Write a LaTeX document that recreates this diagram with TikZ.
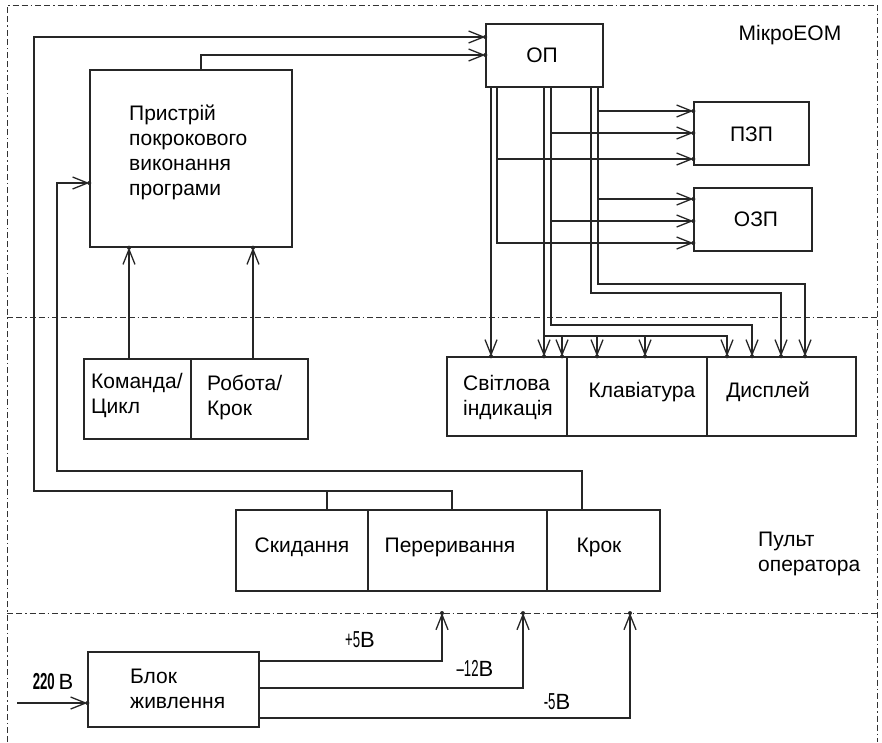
\documentclass[tikz,border=0pt]{standalone}
\usepackage{fontspec}
\usepackage{graphicx}
\setmainfont{Liberation Sans}
\usetikzlibrary{arrows.meta,decorations.markings}
\tikzset{
  box/.style={draw=black!85, line width=1.3pt, inner sep=0pt},
  txt/.style={inner sep=0pt, align=left, font=\fontsize{21}{25}\selectfont},
  lbl/.style={inner sep=0pt, font=\fontsize{22}{25}\selectfont},
  wire/.style={draw=black!85, line width=1.3pt},
  arr/.style={wire, -{Straight Barb[length=15pt,width=12pt]},
    postaction={decorate},
    decoration={markings, mark=at position 0.9999 with {\fill[black!85] (0,0) circle (2pt);}}},
  frame/.style={draw=black!80, line width=1pt,
    dash pattern=on 6pt off 3pt on 6pt off 3pt on 1.5pt off 3pt}
}
\begin{document}
\begin{tikzpicture}[x=1pt,y=-1pt]
\useasboundingbox (0,0) rectangle (882,742);
% frame
\draw[frame] (7,742) -- (7,5) -- (877,5) -- (877,742);
\draw[frame] (7,317) -- (877,317);
\draw[frame] (7,613) -- (877,613);
% boxes
\node[box, minimum width=202pt, minimum height=177pt] (prog) at (191,158.5) {};
\node[box, minimum width=117pt, minimum height=63pt] (op) at (544.5,55.5) {};
\node[box, minimum width=115pt, minimum height=63pt] (pzp) at (751.5,133.5) {};
\node[box, minimum width=118pt, minimum height=63pt] (ozp) at (753,219.5) {};
\node[box, minimum width=107pt, minimum height=80pt] (kc) at (137.5,399) {};
\node[box, minimum width=117pt, minimum height=80pt] (rk) at (249.5,399) {};
\node[box, minimum width=120pt, minimum height=79pt] (sv) at (507,396.5) {};
\node[box, minimum width=140pt, minimum height=79pt] (kl) at (637,396.5) {};
\node[box, minimum width=149pt, minimum height=79pt] (ds) at (781.5,396.5) {};
\node[box, minimum width=132pt, minimum height=81pt] (sk) at (302,550.5) {};
\node[box, minimum width=179pt, minimum height=81pt] (pr) at (457.5,550.5) {};
\node[box, minimum width=113pt, minimum height=81pt] (kr) at (603.5,550.5) {};
\node[box, minimum width=171pt, minimum height=75pt] (bz) at (173.5,689.5) {};
% texts
\node[txt, anchor=west] (tprog) at (129,152.5) {Пристрій\\покрокового\\виконання\\програми};
\node[txt] (top) at (542,55) {ОП};
\node[txt] (tpzp) at (751.5,134) {ПЗП};
\node[txt] (tozp) at (756,219) {ОЗП};
\node[txt] (tmik) at (790,35) {МікроЕОМ};
\node[txt, anchor=west] (tkc) at (91,395) {Команда/\\Цикл};
\node[txt, anchor=west] (trk) at (207,397.5) {Робота/\\Крок};
\node[txt, anchor=west] (tsv) at (463,397.5) {Світлова\\індикація};
\node[txt] (tkl) at (642,392) {Клавіатура};
\node[txt] (tds) at (768,392) {Дисплей};
\node[txt] (tsk) at (302,547) {Скидання};
\node[txt] (tpr) at (450,547) {Переривання};
\node[txt] (tkr) at (599,547) {Крок};
\node[txt, anchor=west] (tpult) at (758,553.5) {Пульт\\оператора};
\node[txt, anchor=west] (tbz) at (130,688.5) {Блок\\живлення};
\node[lbl] (l5) at (360,640) {\scalebox{0.6}[1.05]{+5}В};
\node[lbl] (l12) at (475,668) {\scalebox{0.6}[1.05]{--12}В};
\node[lbl] (l5m) at (557,702) {\scalebox{0.6}[1.05]{-5}В};
\node[lbl] (l220) at (53,682) {\scalebox{0.6}[1.05]{\bfseries 220}\,В};
% coordinates for free ends
\coordinate (p5) at (442,613);
\coordinate (p12) at (523,613);
\coordinate (p5m) at (630,613);
\coordinate (in220) at (17,703);
% prog -> op
\draw[arr] (prog.north -| 201,0) |- (op.west |- 0,55);
% outer loop: Переривання/Скидання -> ОП
\draw[arr] (pr.north -| 452,0) -- (452,491) -- (34,491) -- (34,37) -- (op.west |- 0,37);
\draw[wire] (sk.north -| 327,0) -- (327,491);
% inner loop: Крок -> prog
\draw[arr] (kr.north -| 582,0) -- (582,471) -- (57,471) -- (57,183) -- (prog.west |- 0,183);
% switches -> prog
\draw[arr] (kc.north -| 129,0) -- (prog.south -| 129,0);
\draw[arr] (rk.north -| 253,0) -- (prog.south -| 253,0);
% OP outputs
\draw[arr] (op.south -| 491,0) -- (sv.north -| 491,0);
\draw[arr] (op.south -| 497,0) -- (497,243) -- (ozp.west |- 0,243);
\draw[arr] (497,159) -- (pzp.west |- 0,159);
\draw[arr] (op.south -| 544,0) -- (sv.north -| 544,0);
\draw[arr] (544,336) -- (727,336) -- (ds.north -| 727,0);
\draw[arr] (562,336) -- (sv.north -| 562,0);
\draw[arr] (597,336) -- (kl.north -| 597,0);
\draw[arr] (645,336) -- (kl.north -| 645,0);
\draw[arr] (op.south -| 551,0) -- (551,325) -- (752,325) -- (ds.north -| 752,0);
\draw[arr] (551,133) -- (pzp.west |- 0,133);
\draw[arr] (551,221) -- (ozp.west |- 0,221);
\draw[arr] (op.south -| 591,0) -- (591,293) -- (781,293) -- (ds.north -| 781,0);
\draw[arr] (op.south -| 598,0) -- (598,284) -- (805,284) -- (ds.north -| 805,0);
\draw[arr] (598,111) -- (pzp.west |- 0,111);
\draw[arr] (598,199) -- (ozp.west |- 0,199);
% power
\draw[arr] (in220) -- (bz.west |- 0,703);
\draw[arr] (bz.east |- 0,661) -- (442,661) -- (p5);
\draw[arr] (bz.east |- 0,688) -- (523,688) -- (p12);
\draw[arr] (bz.east |- 0,718) -- (630,718) -- (p5m);
\end{tikzpicture}
\end{document}
